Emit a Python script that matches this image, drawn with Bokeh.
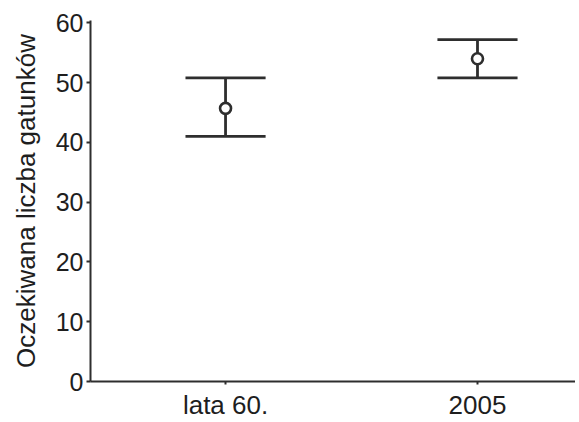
from bokeh.plotting import figure
from bokeh.models import Range1d, FixedTicker
from bokeh.embed import file_html
from bokeh.resources import INLINE

categories = ["lata 60.", "2005"]
means = [45.7, 54.0]
lower = [41.0, 50.8]
upper = [50.8, 57.2]
y_ticks = [0, 10, 20, 30, 40, 50, 60]

xs = [i + 1 for i in range(len(categories))]
cap_half = 0.159

p = figure(width=575, height=422, output_backend="svg", toolbar_location=None,
           x_range=Range1d(0.464, 2.389), y_range=Range1d(0, 60.4),
           min_border_left=90, min_border_top=20, min_border_bottom=39, min_border_right=0)
p.outline_line_color = None
p.xgrid.visible = False
p.ygrid.visible = False

col = "#2e2e2e"
p.segment(x0=xs, y0=lower, x1=xs, y1=upper, line_color=col, line_width=2.8)
p.segment(x0=[x - cap_half for x in xs], y0=upper, x1=[x + cap_half for x in xs], y1=upper,
          line_color=col, line_width=2.8)
p.segment(x0=[x - cap_half for x in xs], y0=lower, x1=[x + cap_half for x in xs], y1=lower,
          line_color=col, line_width=2.8)
p.scatter(x=xs, y=means, size=11, fill_color="white", line_color=col, line_width=2.6)

for ax in (p.xaxis[0], p.yaxis[0]):
    ax.axis_line_color = col
    ax.axis_line_width = 2
    ax.major_tick_line_color = col
    ax.major_tick_line_width = 2
    ax.minor_tick_line_color = None
    ax.major_label_text_font = "Liberation Sans"
    ax.major_label_text_color = "#1e1e1e"

p.xaxis.major_label_text_font_size = "26px"
p.yaxis.major_label_text_font_size = "25px"

p.xaxis.ticker = FixedTicker(ticks=xs)
p.xaxis.major_label_overrides = {x: c for x, c in zip(xs, categories)}
p.xaxis.major_tick_out = 3
p.xaxis.major_tick_in = 0
p.xaxis.major_label_standoff = 5

p.yaxis.ticker = FixedTicker(ticks=y_ticks)
p.yaxis.major_tick_out = 4
p.yaxis.major_tick_in = 0
p.yaxis.major_label_standoff = 3
p.yaxis.axis_label = "Oczekiwana liczba gatunków"
p.yaxis.axis_label_text_font = "Liberation Sans"
p.yaxis.axis_label_text_font_size = "26px"
p.yaxis.axis_label_text_font_style = "normal"
p.yaxis.axis_label_text_color = "#1e1e1e"
p.yaxis.axis_label_standoff = 12

open("out.html", "w").write(file_html(p, INLINE))
